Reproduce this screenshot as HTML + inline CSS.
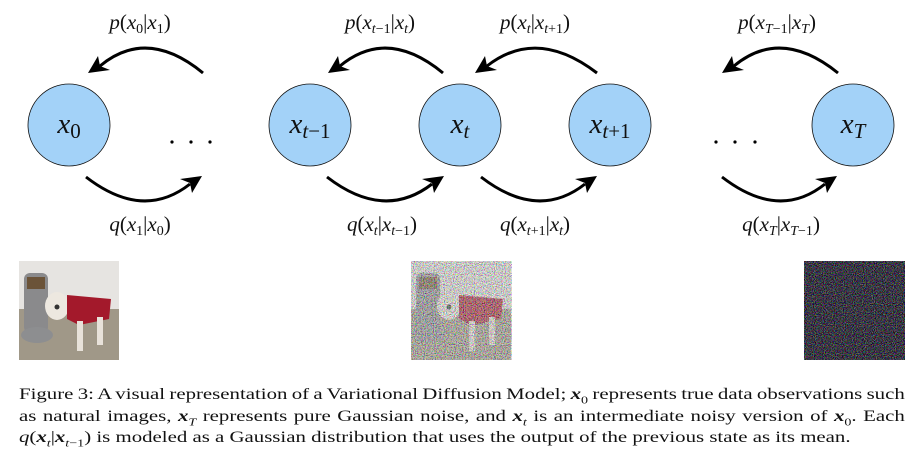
<!DOCTYPE html>
<html><head><meta charset="utf-8"><style>
html,body{margin:0;padding:0;background:#fff;width:915px;height:460px;overflow:hidden}
svg{display:block}
.m{font-family:"Liberation Serif",serif;font-style:italic;font-size:21px;fill:#111}
.n{font-style:normal}
.cap{position:absolute;left:19px;width:692px;font-family:"Liberation Serif",serif;font-size:16.3px;color:#111;transform:scaleX(1.28);transform-origin:0 0}
.cap div{height:21.5px;line-height:21.5px;text-align:justify;text-align-last:justify;white-space:nowrap;word-spacing:-3.5px;overflow:hidden}
.cap div.l{text-align-last:left;word-spacing:0}
.b{font-weight:bold;font-style:italic}
sub{font-size:11px;line-height:0}
</style></head><body>
<svg width="915" height="460" viewBox="0 0 915 460" style="position:absolute;left:0;top:0">
<defs>
<filter id="nz" x="0" y="0" width="100%" height="100%">
<feTurbulence type="fractalNoise" baseFrequency="0.9" numOctaves="2" seed="3" result="t"/>
<feColorMatrix in="t" type="matrix" values="3 0 0 0 -1  0 3 0 0 -1  0 0 3 0 -1  0 0 0 0 1"/>
</filter>
<filter id="nz2" x="0" y="0" width="100%" height="100%">
<feTurbulence type="fractalNoise" baseFrequency="0.9" numOctaves="2" seed="7" result="t"/>
<feColorMatrix in="t" type="matrix" values="2.2 0 0 0 -1.0  0 2.2 0 0 -1.0  0 0 2.2 0 -0.95  0 0 0 0 1"/>
</filter>
<g id="dog">
<rect x="0" y="0" width="100" height="99" fill="#e6e4e1"/>
<rect x="0" y="48" width="100" height="51" fill="#a09888"/>
<rect x="5" y="12" width="24" height="60" rx="6" fill="#8a8a8c"/>
<rect x="8" y="16" width="18" height="12" fill="#6b5338"/>
<ellipse cx="18" cy="74" rx="16" ry="8" fill="#8d8e90"/>
<ellipse cx="38" cy="45" rx="12" ry="14" fill="#ede8e0"/>
<path d="M48 34 L92 38 L90 58 L60 64 L48 58Z" fill="#a3192b"/>
<rect x="58" y="60" width="6" height="30" fill="#e8e2da"/>
<rect x="78" y="56" width="6" height="28" fill="#e8e2da"/>
<circle cx="38" cy="46" r="2.5" fill="#333"/>
</g>
</defs>
<g stroke="#111" stroke-width="0.8" fill="#a3d2f8">
<circle cx="69" cy="125" r="41"/>
<circle cx="310" cy="125" r="41"/>
<circle cx="460" cy="125" r="41"/>
<circle cx="610" cy="125" r="41"/>
<circle cx="853" cy="125" r="41"/>
</g>
<g fill="none" stroke="#000" stroke-width="3">
<path d="M203 73 Q147 27 100 66"/>
<path d="M443 73 Q387 27 340 66"/>
<path d="M597 73 Q537 27 487 66"/>
<path d="M838 73 Q781 27 734 66"/>
<path d="M86 177 Q143 221 190 184"/>
<path d="M327 177 Q384 221 432 184"/>
<path d="M481 177 Q538 221 585 184"/>
<path d="M722 177 Q779 221 825 184"/>
</g>
<g fill="#000">
<path d="M88 73 L98 56 L100 66 L110 70Z"/>
<path d="M328 73 L338 56 L340 66 L350 70Z"/>
<path d="M475 73 L485 56 L487 66 L497 70Z"/>
<path d="M722 73 L732 56 L734 66 L744 70Z"/>
<path d="M202 176 L192 193 L190 183 L180 179Z"/>
<path d="M444 176 L434 193 L432 183 L422 179Z"/>
<path d="M597 176 L587 193 L585 183 L575 179Z"/>
<path d="M837 176 L827 193 L825 183 L815 179Z"/>
<circle cx="172" cy="142" r="1.6"/><circle cx="191" cy="142" r="1.6"/><circle cx="210" cy="142" r="1.6"/>
<circle cx="716" cy="142" r="1.6"/><circle cx="735" cy="142" r="1.6"/><circle cx="755" cy="142" r="1.6"/>
</g>
<g class="m" style="font-size:29px">
<text x="69" y="133" text-anchor="middle">x<tspan class="n" dy="5" font-size="21">0</tspan></text>
<text x="310" y="133" text-anchor="middle">x<tspan dy="5" font-size="21">t</tspan><tspan class="n" font-size="21">−1</tspan></text>
<text x="460" y="133" text-anchor="middle">x<tspan dy="5" font-size="21">t</tspan></text>
<text x="610" y="133" text-anchor="middle">x<tspan dy="5" font-size="21">t</tspan><tspan class="n" font-size="21">+1</tspan></text>
<text x="853" y="133" text-anchor="middle">x<tspan dy="5" font-size="21">T</tspan></text>
</g>
<g class="m" text-anchor="middle">
<text x="140" y="29">p<tspan class="n">(</tspan>x<tspan class="n" font-size="14" dy="4">0</tspan><tspan class="n" dy="-4">|</tspan>x<tspan class="n" font-size="14" dy="4">1</tspan><tspan class="n" dy="-4">)</tspan></text>
<text x="380" y="29">p<tspan class="n">(</tspan>x<tspan font-size="14" dy="4">t</tspan><tspan class="n" font-size="14">−1</tspan><tspan class="n" dy="-4">|</tspan>x<tspan font-size="14" dy="4">t</tspan><tspan class="n" dy="-4">)</tspan></text>
<text x="535" y="29">p<tspan class="n">(</tspan>x<tspan font-size="14" dy="4">t</tspan><tspan class="n" dy="-4">|</tspan>x<tspan font-size="14" dy="4">t</tspan><tspan class="n" font-size="14">+1</tspan><tspan class="n" dy="-4">)</tspan></text>
<text x="777" y="29">p<tspan class="n">(</tspan>x<tspan font-size="14" dy="4">T</tspan><tspan class="n" font-size="14">−1</tspan><tspan class="n" dy="-4">|</tspan>x<tspan font-size="14" dy="4">T</tspan><tspan class="n" dy="-4">)</tspan></text>
<text x="140" y="231">q<tspan class="n">(</tspan>x<tspan class="n" font-size="14" dy="4">1</tspan><tspan class="n" dy="-4">|</tspan>x<tspan class="n" font-size="14" dy="4">0</tspan><tspan class="n" dy="-4">)</tspan></text>
<text x="382" y="231">q<tspan class="n">(</tspan>x<tspan font-size="14" dy="4">t</tspan><tspan class="n" dy="-4">|</tspan>x<tspan font-size="14" dy="4">t</tspan><tspan class="n" font-size="14">−1</tspan><tspan class="n" dy="-4">)</tspan></text>
<text x="535" y="231">q<tspan class="n">(</tspan>x<tspan font-size="14" dy="4">t</tspan><tspan class="n" font-size="14">+1</tspan><tspan class="n" dy="-4">|</tspan>x<tspan font-size="14" dy="4">t</tspan><tspan class="n" dy="-4">)</tspan></text>
<text x="781" y="231">q<tspan class="n">(</tspan>x<tspan font-size="14" dy="4">T</tspan><tspan class="n" dy="-4">|</tspan>x<tspan font-size="14" dy="4">T</tspan><tspan class="n" font-size="14">−1</tspan><tspan class="n" dy="-4">)</tspan></text>
</g>
<use href="#dog" x="19" y="261"/>
<use href="#dog" x="411" y="261"/>
<rect x="411" y="261" width="101" height="99" filter="url(#nz)" opacity="0.55"/>
<rect x="804" y="261" width="101" height="99" fill="#1e1a24"/>
<rect x="804" y="261" width="101" height="99" filter="url(#nz2)" opacity="0.55"/>
</svg>
<div class="cap" style="top:383px">
<div>Figure 3: A visual representation of a Variational Diffusion Model; <span class="b">x</span><sub>0</sub> represents true data observations such</div>
<div>as natural images, <span class="b">x</span><sub><i>T</i></sub> represents pure Gaussian noise, and <span class="b">x</span><sub><i>t</i></sub> is an intermediate noisy version of <span class="b">x</span><sub>0</sub>. Each</div>
<div class="l"><i>q</i>(<span class="b">x</span><sub><i>t</i></sub>|<span class="b">x</span><sub><i>t</i>−1</sub>) is modeled as a Gaussian distribution that uses the output of the previous state as its mean.</div>
</div>
</body></html>
